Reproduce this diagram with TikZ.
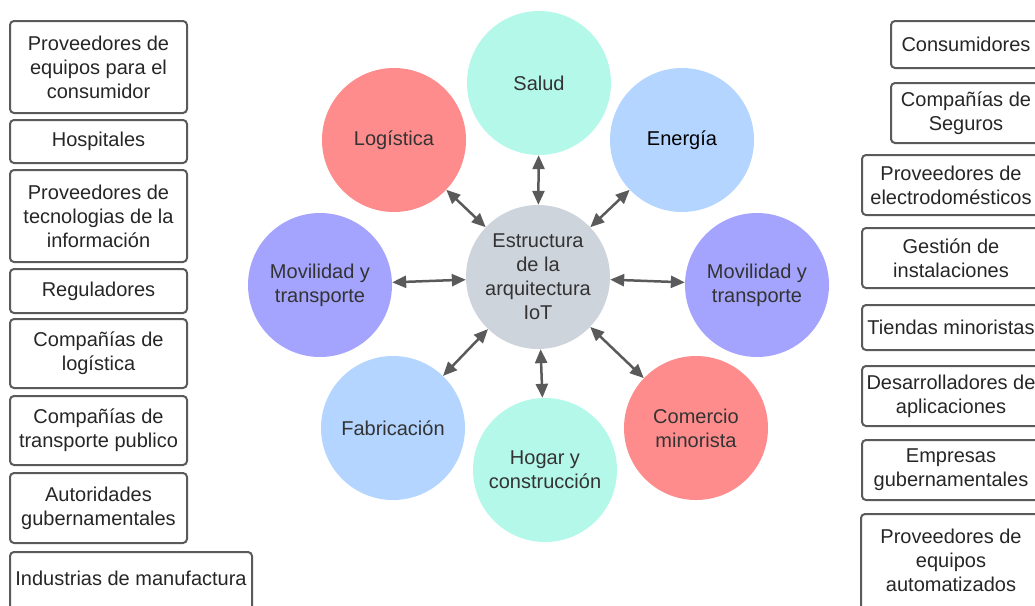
\documentclass[tikz,border=0pt]{standalone}
\usepackage{fontspec}
\setmainfont{Liberation Sans}
\usetikzlibrary{arrows.meta}
\definecolor{mint}{HTML}{B4F8EA}
\definecolor{salmon}{HTML}{FF8C8C}
\definecolor{sky}{HTML}{B4D5FF}
\definecolor{lav}{HTML}{A4A4FF}
\definecolor{hubc}{HTML}{CED4DC}
\definecolor{edgec}{HTML}{5A5A5A}
\definecolor{txt}{HTML}{333333}
\begin{document}
\begin{tikzpicture}[x=1pt,y=-1pt,
  every node/.style={font=\fontsize{20}{24}\selectfont, text=txt, align=center},
  bubble/.style={circle, minimum size=144pt, inner sep=0pt},
  party/.style={draw=edgec, line width=2pt, rounded corners=4pt, inner sep=0pt, text=black!85},
  frame/.style={draw=edgec, line width=2pt, rounded corners=4pt},
  link/.style={draw=edgec, line width=2.5pt, {Triangle[length=14pt,width=12pt]}-{Triangle[length=14pt,width=12pt]}}]
\useasboundingbox (0,0) rectangle (1035,605);
\clip (0,0) rectangle (1035,605);
% bubbles
\node[bubble, fill=hubc] (hub) at (538,277) {Estructura\\de la\\arquitectura\\IoT};
\node[bubble, fill=mint] (salud) at (539,83) {Salud};
\node[bubble, fill=salmon] (logi) at (394,140) {Logística};
\node[bubble, fill=sky] (ener) at (682,140) {\textcolor{black}{Energía}};
\node[bubble, fill=lav] (movl) at (320,285) {Movilidad y\\transporte};
\node[bubble, fill=lav] (movr) at (757,285) {Movilidad y\\transporte};
\node[bubble, fill=sky] (fabr) at (393,428) {Fabricación};
\node[bubble, fill=mint] (hogar) at (545,470) {Hogar y\\construcción};
\node[bubble, fill=salmon] (comer) at (696,428) {Comercio\\minorista};
% links
\draw[link] (hub) -- (salud);
\draw[link] (hub) -- (logi);
\draw[link] (hub) -- (ener);
\draw[link] (hub) -- (movl);
\draw[link] (hub) -- (movr);
\draw[link] (hub) -- (fabr);
\draw[link] (hub) -- (hogar);
\draw[link] (hub) -- (comer);
% left boxes
\node[party, minimum width=177pt, minimum height=92pt] (l1) at (98.5,67) {Proveedores de\\equipos para el\\consumidor};
\node[party, minimum width=177pt, minimum height=43pt] (l2) at (98.5,141.5) {Hospitales};
\node[party, minimum width=177pt, minimum height=92pt] (l3) at (98.5,216) {Proveedores de\\tecnologias de la\\información};
\node[party, minimum width=177pt, minimum height=44pt] (l4) at (98.5,291) {Reguladores};
\node[party, minimum width=177pt, minimum height=69pt] (l5) at (98.5,353.5) {Compañías de\\logística};
\node[party, minimum width=177pt, minimum height=69pt] (l6) at (98.5,430.5) {Compañías de\\transporte publico};
\node[party, minimum width=177pt, minimum height=70pt] (l7) at (98.5,508) {Autoridades\\gubernamentales};
\node[party, minimum width=242pt, text height=33pt, text depth=40pt, anchor=north] (l8) at (131,551) {Industrias de manufactura};
% right boxes
\node[party, minimum width=150pt, minimum height=47pt] (r1) at (966,44.5) {Consumidores};
\node[party, minimum width=150pt, minimum height=60pt] (r2) at (966,113) {Compañías de\\Seguros};
\node[party, minimum width=178pt, minimum height=60pt] (r3) at (951,185) {Proveedores de\\electrodomésticos};
\node[party, minimum width=178pt, minimum height=60pt] (r4) at (951,258) {Gestión de\\instalaciones};
\node[party, minimum width=178pt, minimum height=45pt] (r5) at (951,327.5) {Tiendas minoristas};
\node[party, minimum width=178pt, minimum height=60pt] (r6) at (951,396) {Desarrolladores de\\aplicaciones};
\node[party, minimum width=178pt, minimum height=60pt] (r7) at (951,470) {Empresas\\gubernamentales};
\node[party, draw=none, minimum width=178pt, minimum height=90pt] (r8) at (951,560) {Proveedores de\\equipos\\automatizados};
\draw[frame] (r8.north west) rectangle ([yshift=-20pt]r8.south east);
\end{tikzpicture}
\end{document}
